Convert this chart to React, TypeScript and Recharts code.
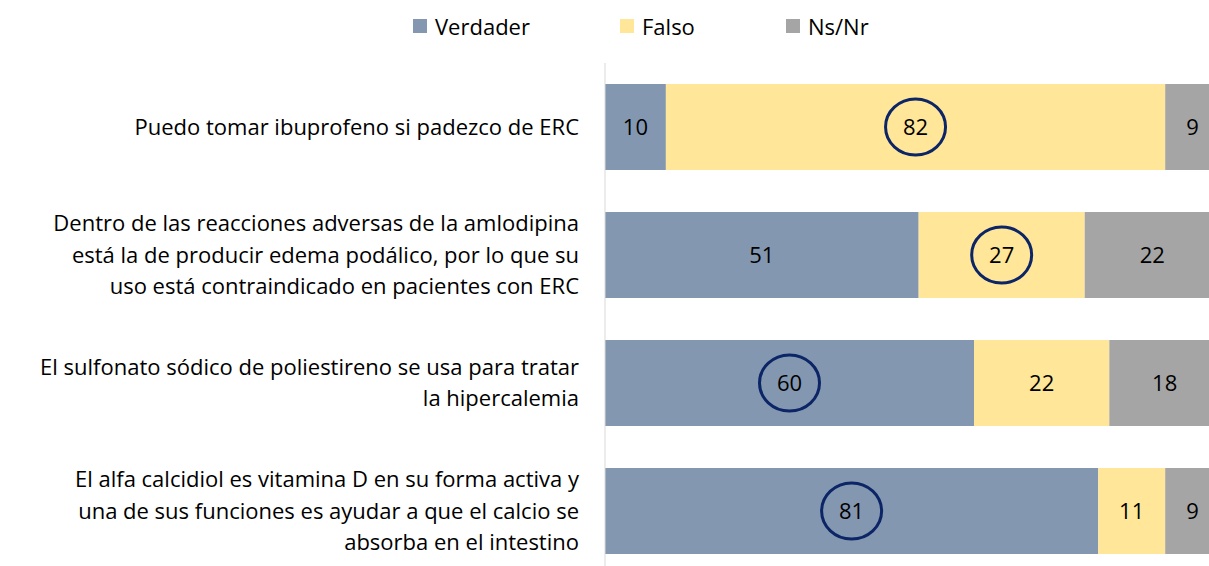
import { Bar, BarChart, LabelList, XAxis, YAxis } from "recharts";

const categories = [
  "Puedo tomar ibuprofeno si padezco de ERC",
  "Dentro de las reacciones adversas de la amlodipina\nestá la de producir edema podálico, por lo que su\nuso está contraindicado en pacientes con ERC",
  "El sulfonato sódico de poliestireno se usa para tratar\nla hipercalemia",
  "El alfa calcidiol es vitamina D en su forma activa y\nuna de sus funciones es ayudar a que el calcio se\nabsorba en el intestino",
];
const verdader = [10, 51, 60, 81];
const falso = [82, 27, 22, 11];
const nsnr = [9, 22, 18, 9];
// which answer was circled in each row (the correct one)
const circled = ["falso", "falso", "verdader", "verdader"];

const series = [
  { key: "verdader", name: "Verdader", color: "#8497B0" },
  { key: "falso", name: "Falso", color: "#FFE699" },
  { key: "nsnr", name: "Ns/Nr", color: "#A5A5A5" },
];

const data = categories.map((label, i) => ({
  label,
  verdader: verdader[i],
  falso: falso[i],
  nsnr: nsnr[i],
}));

const FONT = "'Open Sans', 'Noto Sans', sans-serif";
const FS = 22;

function CategoryTick({ x, y, payload }: any) {
  const lines = String(payload.value).split("\n");
  const lh = 31.5;
  const start = y - ((lines.length - 1) * lh) / 2;
  return (
    <text x={x - 18} y={start} textAnchor="end" fontFamily={FONT} fontSize={FS} fill="#000">
      {lines.map((ln, i) => (
        <tspan key={i} x={x - 18} y={start + i * lh} dy="0.35em">
          {ln}
        </tspan>
      ))}
    </text>
  );
}

function makeLabel(seriesKey: string) {
  return (props: any) => {
    const { x, y, width, height, value, index } = props;
    const cx = x + width / 2;
    const cy = y + height / 2;
    return (
      <g>
        {circled[index] === seriesKey && (
          <ellipse cx={cx} cy={cy} rx={30} ry={28} fill="none" stroke="#0B2566" strokeWidth={3} />
        )}
        <text x={cx} y={cy} dy="0.35em" textAnchor="middle" fontFamily={FONT} fontSize={FS} fill="#000">
          {value}
        </text>
      </g>
    );
  };
}

const legendPos = [413, 620, 786];

export default function App() {
  return (
    <div style={{ position: "fixed", left: 0, top: 0, width: 1209, height: 566, overflow: "hidden", background: "#fff" }}>
      {series.map((s, i) => (
        <div
          key={s.key}
          style={{ position: "absolute", left: legendPos[i], top: 11, display: "flex", alignItems: "center", fontFamily: FONT, fontSize: FS, color: "#000" }}
        >
          <span style={{ width: 14, height: 14, background: s.color, display: "inline-block", marginRight: 8 }} />
          {s.name}
        </div>
      ))}
      <div style={{ position: "absolute", left: 0, top: 0 }}>
        <BarChart
          width={1220}
          height={575}
          data={data}
          layout="vertical"
          stackOffset="expand"
          margin={{ top: 63, right: 0, bottom: 0, left: 5 }}
        >
          <XAxis type="number" hide domain={[0, 1]} />
          <YAxis
            type="category"
            dataKey="label"
            width={600}
            tick={<CategoryTick />}
            tickLine={false}
            axisLine={{ stroke: "#D9D9D9", strokeWidth: 1 }}
            interval={0}
          />
          {series.map((s) => (
            <Bar key={s.key} dataKey={s.key} name={s.name} stackId="a" fill={s.color} barSize={86} isAnimationActive={false}>
              <LabelList dataKey={s.key} content={makeLabel(s.key)} />
            </Bar>
          ))}
        </BarChart>
      </div>
    </div>
  );
}
